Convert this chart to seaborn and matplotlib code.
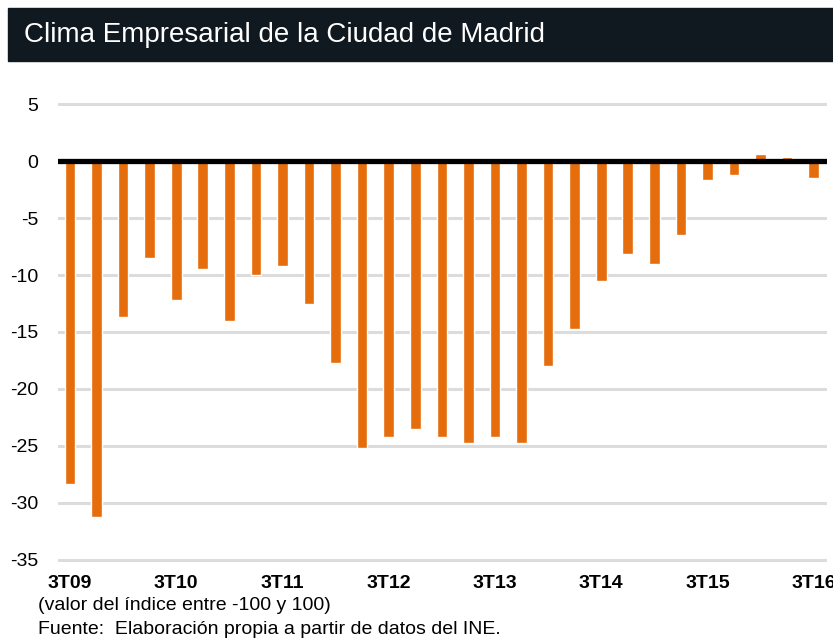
import matplotlib
matplotlib.use("Agg")
import matplotlib.pyplot as plt
import seaborn as sns
import pandas as pd
from matplotlib.patches import Rectangle

# ---- data ----
quarters = ["3T09", "4T09", "1T10", "2T10", "3T10", "4T10", "1T11", "2T11",
            "3T11", "4T11", "1T12", "2T12", "3T12", "4T12", "1T13", "2T13",
            "3T13", "4T13", "1T14", "2T14", "3T14", "4T14", "1T15", "2T15",
            "3T15", "4T15", "1T16", "2T16", "3T16"]
values = [-28.3, -31.2, -13.7, -8.5, -12.2, -9.5, -14.0, -10.0,
          -9.2, -12.5, -17.7, -25.2, -24.2, -23.5, -24.2, -24.7,
          -24.2, -24.7, -18.0, -14.7, -10.5, -8.2, -9.0, -6.5,
          -1.7, -1.2, 0.6, 0.35, -1.5]
y_ticks = [5, 0, -5, -10, -15, -20, -25, -30, -35]
x_tick_labels = ["3T09", "3T10", "3T11", "3T12", "3T13", "3T14", "3T15", "3T16"]
title = "Clima Empresarial de la Ciudad de Madrid"
note = "(valor del índice entre -100 y 100)"
source = "Fuente:  Elaboración propia a partir de datos del INE."

# ---- style ----
sns.set_theme(style="white")
plt.rcParams['font.family'] = ['Liberation Sans', 'DejaVu Sans']

W, H = 833, 638
fig = plt.figure(figsize=(W / 100, H / 100), dpi=100)
fig.patch.set_facecolor("white")

# title bar
fig.patches.append(Rectangle((8 / W, 1 - 61 / H), 1, 53 / H,
                             transform=fig.transFigure, color="#101820",
                             zorder=0))
fig.text(24 / W, 1 - 35 / H, title, color="white", fontsize=20,
         va="center", ha="left")

ax = fig.add_axes([58 / W, (H - 563.4) / H, 769 / W, 462.8 / H])
df = pd.DataFrame({"trimestre": quarters, "valor": values})
sns.barplot(data=df, x="trimestre", y="valor", color="#E56D0C",
            saturation=1, width=0.4, ax=ax, zorder=3)

ax.set_ylim(-35.3, 5.3)
ax.set_xlim(-0.45, len(quarters) - 0.5)
ax.set_yticks(y_ticks)
ax.set_yticklabels([str(v) for v in y_ticks], fontsize=14, color="black")
ax.yaxis.grid(True, color="#DCDCDC", linewidth=2.2, zorder=0)
ax.set_axisbelow(True)
ax.axhline(0, color="black", linewidth=3.8, zorder=4)

pos = [quarters.index(q) for q in x_tick_labels]
ax.set_xticks(pos)
ax.set_xticklabels(x_tick_labels, fontsize=14, fontweight="bold", color="black")
ax.tick_params(axis="both", length=0)
ax.tick_params(axis="y", pad=14)
ax.tick_params(axis="x", pad=8)
ax.set_xlabel("")
ax.set_ylabel("")
for s in ax.spines.values():
    s.set_visible(False)

fig.text(38 / W, 1 - 605 / H, note, fontsize=14, va="center", ha="left",
         color="black")
fig.text(38 / W, 1 - 629 / H, source, fontsize=14, va="center", ha="left",
         color="black")

fig.savefig("out.png", dpi=100)
